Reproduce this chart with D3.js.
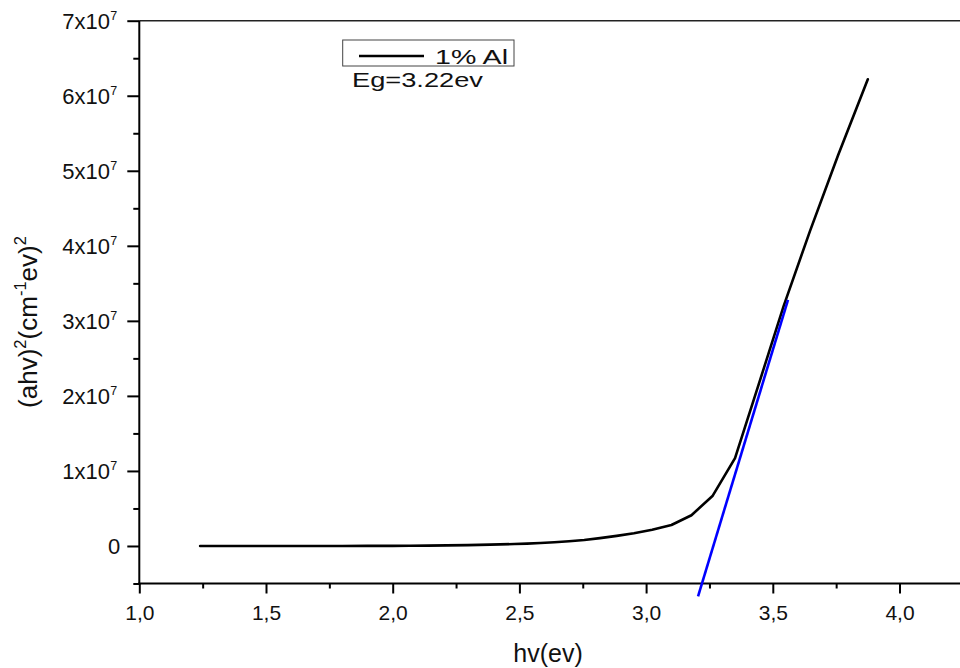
<!DOCTYPE html>
<html>
<head>
<meta charset="utf-8">
<script src="https://cdn.jsdelivr.net/npm/d3@7"></script>
<style>
  html, body { margin: 0; padding: 0; background: #fff; }
  svg { display: block; font-family: "Liberation Sans", Arial, sans-serif; }
</style>
</head>
<body>
<svg id="chart" width="960" height="668"></svg>
<script>
// Photon energy hv (eV) of each measured point
const hv = [1.24, 1.3, 1.4, 1.5, 1.6, 1.7, 1.8, 1.9, 2.0, 2.067, 2.138, 2.214, 2.296,
            2.384, 2.48, 2.53, 2.583, 2.638, 2.696, 2.756, 2.818, 2.884, 2.952, 3.024,
            3.1, 3.179, 3.263, 3.351, 3.444, 3.543, 3.647, 3.758, 3.875];
// (ahv)^2 in units of 1e7 (cm^-1 eV)^2
const ahv2 = [0, 0, 0, 0, 0.0002, 0.0003, 0.0005, 0.001, 0.002, 0.003, 0.005, 0.008, 0.012,
              0.018, 0.026, 0.032, 0.04, 0.05, 0.064, 0.08, 0.105, 0.135, 0.17, 0.215,
              0.28, 0.41, 0.67, 1.17, 2.15, 3.2, 4.2, 5.21, 6.22];
// Linear fit of the absorption edge (Tauc extrapolation), endpoints in (eV, 1e7)
const fitHv = [3.205, 3.56];
const fitVal = [-0.67, 3.28];

const xMajor = [1.0, 1.5, 2.0, 2.5, 3.0, 3.5, 4.0];
const xMajorLabels = ["1,0", "1,5", "2,0", "2,5", "3,0", "3,5", "4,0"];
const xMinor = [1.25, 1.75, 2.25, 2.75, 3.25, 3.75];
const yMajor = [0, 1, 2, 3, 4, 5, 6, 7];
const yMajorMantissa = ["0", "1x10", "2x10", "3x10", "4x10", "5x10", "6x10", "7x10"];
const yMinor = [-0.5, 0.5, 1.5, 2.5, 3.5, 4.5, 5.5, 6.5];
const seriesName = "1% Al";
const gapNote = "Eg=3.22ev";

const svg = d3.select("#chart");
const plotL = 139.3, plotR = 962.85, plotT = 20.7, plotB = 583.5;

const x = d3.scaleLinear().domain([1.0, 4.25]).range([plotL, plotR]);
const y = d3.scaleLinear().domain([-0.5, 7]).range([plotB, plotT]);

// frame: top border
svg.append("line")
  .attr("x1", plotL).attr("x2", 960).attr("y1", plotT).attr("y2", plotT)
  .attr("stroke", "#222").attr("stroke-width", 1.5);

// minor ticks
svg.append("g").attr("transform", `translate(0,${plotB})`)
  .call(d3.axisBottom(x).tickValues(xMinor).tickSize(5).tickFormat(""))
  .call(g => g.select(".domain").remove())
  .call(g => g.selectAll("line").attr("stroke", "#000").attr("stroke-width", 2));
svg.append("g").attr("transform", `translate(${plotL},0)`)
  .call(d3.axisLeft(y).tickValues(yMinor).tickSize(6).tickFormat(""))
  .call(g => g.select(".domain").remove())
  .call(g => g.selectAll("line").attr("stroke", "#000").attr("stroke-width", 2));

// x axis
const gx = svg.append("g").attr("transform", `translate(0,${plotB})`)
  .call(d3.axisBottom(x).tickValues(xMajor).tickSize(10).tickPadding(11.5)
        .tickFormat((d, i) => xMajorLabels[i]));
gx.select(".domain").remove();
gx.selectAll("line").attr("stroke", "#000").attr("stroke-width", 2);
gx.selectAll("text").attr("font-size", 21).attr("fill", "#111")
  .attr("font-family", "Liberation Sans, Arial, sans-serif");
svg.append("line")
  .attr("x1", plotL - 1).attr("x2", 960).attr("y1", plotB).attr("y2", plotB)
  .attr("stroke", "#000").attr("stroke-width", 2);

// y axis: mantissa "Nx10" with a raised exponent
const gy = svg.append("g").attr("transform", `translate(${plotL},0)`)
  .call(d3.axisLeft(y).tickValues(yMajor).tickSize(12).tickPadding(6).tickFormat(""));
gy.select(".domain").remove();
gy.selectAll("line").attr("stroke", "#000").attr("stroke-width", 2);
gy.selectAll(".tick").each(function (d, i) {
  d3.select(this).append("text")
    .attr("x", d === 0 ? -19 : -29.3).attr("dy", "0.36em")
    .attr("text-anchor", "end").attr("font-size", 22).attr("fill", "#111")
    .attr("font-family", "Liberation Sans, Arial, sans-serif")
    .text(yMajorMantissa[i]);
  if (d !== 0) {
    d3.select(this).append("text")
      .attr("x", -29).attr("y", -1.5)
      .attr("text-anchor", "start").attr("font-size", 12.5).attr("fill", "#111")
      .attr("font-family", "Liberation Sans, Arial, sans-serif")
      .text("7");
  }
});
svg.append("line")
  .attr("x1", plotL).attr("x2", plotL).attr("y1", plotT).attr("y2", plotB + 1)
  .attr("stroke", "#000").attr("stroke-width", 2);

// axis titles
svg.append("text")
  .attr("x", 548).attr("y", 662).attr("text-anchor", "middle")
  .attr("font-size", 25).attr("fill", "#111").text("hv(ev)");

const yTitle = svg.append("text")
  .attr("transform", "translate(37,322) rotate(-90)")
  .attr("text-anchor", "middle").attr("font-size", 26).attr("fill", "#111");
yTitle.append("tspan").text("(ahv)");
yTitle.append("tspan").attr("font-size", 16.5).attr("dy", -11.5).text("2");
yTitle.append("tspan").attr("dy", 11.5).text("(cm");
yTitle.append("tspan").attr("font-size", 16.5).attr("dy", -11.5).text("-1");
yTitle.append("tspan").attr("dy", 11.5).text("ev)");
yTitle.append("tspan").attr("font-size", 16.5).attr("dy", -11.5).text("2");

// data curve
const pts = hv.map((h, i) => [h, ahv2[i]]);
svg.append("path").datum(pts)
  .attr("fill", "none").attr("stroke", "#000").attr("stroke-width", 2.6)
  .attr("stroke-linejoin", "round").attr("stroke-linecap", "round")
  .attr("d", d3.line().x(d => x(d[0])).y(d => y(d[1])));

// linear fit line
const fit = fitHv.map((h, i) => [h, fitVal[i]]);
svg.append("path").datum(fit)
  .attr("fill", "none").attr("stroke", "#0000ff").attr("stroke-width", 2.6)
  .attr("d", d3.line().x(d => x(d[0])).y(d => y(d[1])));

// legend
svg.append("rect")
  .attr("x", 342.7).attr("y", 40).attr("width", 171.3).attr("height", 26)
  .attr("fill", "#fff").attr("stroke", "#444").attr("stroke-width", 1);
svg.append("line")
  .attr("x1", 359).attr("x2", 424).attr("y1", 56).attr("y2", 56)
  .attr("stroke", "#000").attr("stroke-width", 2.6);
svg.append("text")
  .attr("x", 435).attr("y", 63.5).attr("font-size", 21).attr("fill", "#111")
  .attr("textLength", 73).attr("lengthAdjust", "spacingAndGlyphs")
  .text(seriesName);

// band-gap annotation
svg.append("text")
  .attr("x", 352).attr("y", 87).attr("font-size", 21).attr("fill", "#111")
  .attr("textLength", 131).attr("lengthAdjust", "spacingAndGlyphs")
  .text(gapNote);
</script>
</body>
</html>
